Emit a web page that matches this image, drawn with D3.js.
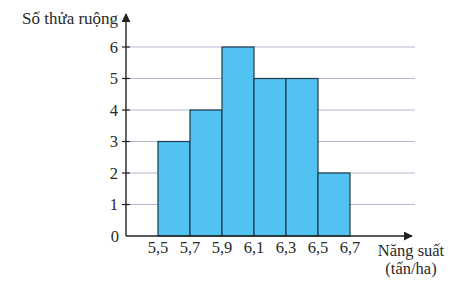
<!DOCTYPE html>
<html>
<head>
<meta charset="utf-8">
<script src="https://cdn.jsdelivr.net/npm/d3@7"></script>
<style>
  body { margin: 0; background: #fff; }
</style>
</head>
<body>
<div id="chart"></div>
<script>
const width = 455;
const height = 292;

// Dữ liệu
const binEdges = [5.5, 5.7, 5.9, 6.1, 6.3, 6.5, 6.7];
const counts = [3, 4, 6, 5, 5, 2];
const yTicks = [0, 1, 2, 3, 4, 5, 6];
const xTickLabels = ["5,5", "5,7", "5,9", "6,1", "6,3", "6,5", "6,7"];

const serif = "'Liberation Serif', 'Times New Roman', 'DejaVu Serif', serif";

const svg = d3.select("#chart")
  .append("svg")
  .attr("width", width)
  .attr("height", height)
  .style("font-family", serif);

// Trục: 5,5 -> 158px, 6,7 -> 350px ; 0 -> 236px, 6 -> 47px
const x = d3.scaleLinear().domain([5.5, 6.7]).range([158, 350]);
const y = d3.scaleLinear().domain([0, 6]).range([236, 47]);
const originX = 126;

svg.append("defs")
  .append("marker")
  .attr("id", "arrow")
  .attr("viewBox", "0 -5 10 10")
  .attr("refX", 9)
  .attr("refY", 0)
  .attr("markerWidth", 9)
  .attr("markerHeight", 9)
  .attr("markerUnits", "userSpaceOnUse")
  .attr("orient", "auto")
  .append("path")
  .attr("d", "M0,-5L10,0L0,5Z")
  .attr("fill", "#222");

// Lưới ngang
svg.selectAll(".grid")
  .data(yTicks.filter(d => d > 0))
  .enter()
  .append("line")
  .attr("x1", originX)
  .attr("x2", 415)
  .attr("y1", d => y(d))
  .attr("y2", d => y(d))
  .attr("stroke", "#b9b6cf")
  .attr("stroke-width", 1.2);

// Các cột
const bins = counts.map((c, i) => ({ x0: binEdges[i], x1: binEdges[i + 1], count: c }));
svg.selectAll(".bar")
  .data(bins)
  .enter()
  .append("rect")
  .attr("x", d => x(d.x0))
  .attr("y", d => y(d.count))
  .attr("width", d => x(d.x1) - x(d.x0))
  .attr("height", d => y(0) - y(d.count))
  .attr("fill", "#52c2f0")
  .attr("stroke", "#1d3b4c")
  .attr("stroke-width", 1.2);

// Trục tung
svg.append("line")
  .attr("x1", originX).attr("x2", originX)
  .attr("y1", y(0)).attr("y2", 14)
  .attr("stroke", "#222").attr("stroke-width", 1.4)
  .attr("marker-end", "url(#arrow)");

// Trục hoành
svg.append("line")
  .attr("x1", originX).attr("x2", 412)
  .attr("y1", y(0)).attr("y2", y(0))
  .attr("stroke", "#222").attr("stroke-width", 1.4)
  .attr("marker-end", "url(#arrow)");

// Vạch chia trục tung
svg.selectAll(".ytick")
  .data(yTicks.filter(d => d > 0))
  .enter()
  .append("line")
  .attr("x1", originX - 4)
  .attr("x2", originX + 4)
  .attr("y1", d => y(d))
  .attr("y2", d => y(d))
  .attr("stroke", "#222")
  .attr("stroke-width", 1.2);

svg.selectAll(".ylabel")
  .data(yTicks)
  .enter()
  .append("text")
  .attr("x", d => d === 0 ? 119 : 118)
  .attr("y", d => y(d) + 5.5)
  .attr("text-anchor", "end")
  .attr("font-size", 16.5)
  .attr("fill", "#2a2a2a")
  .text(d => d);

svg.selectAll(".xlabel")
  .data(binEdges)
  .enter()
  .append("text")
  .attr("x", d => x(d))
  .attr("y", 253)
  .attr("text-anchor", "middle")
  .attr("font-size", 16.5)
  .attr("fill", "#2a2a2a")
  .text((d, i) => xTickLabels[i]);

// Nhãn trục
svg.append("text")
  .attr("x", 22)
  .attr("y", 24)
  .attr("font-size", 17)
  .attr("fill", "#2a2a2a")
  .text("Số thửa ruộng");

svg.append("text")
  .attr("x", 411)
  .attr("y", 256)
  .attr("text-anchor", "middle")
  .attr("font-size", 16.5)
  .attr("fill", "#2a2a2a")
  .text("Năng suất");

svg.append("text")
  .attr("x", 411)
  .attr("y", 274)
  .attr("text-anchor", "middle")
  .attr("font-size", 16.5)
  .attr("fill", "#2a2a2a")
  .text("(tấn/ha)");
</script>
</body>
</html>
